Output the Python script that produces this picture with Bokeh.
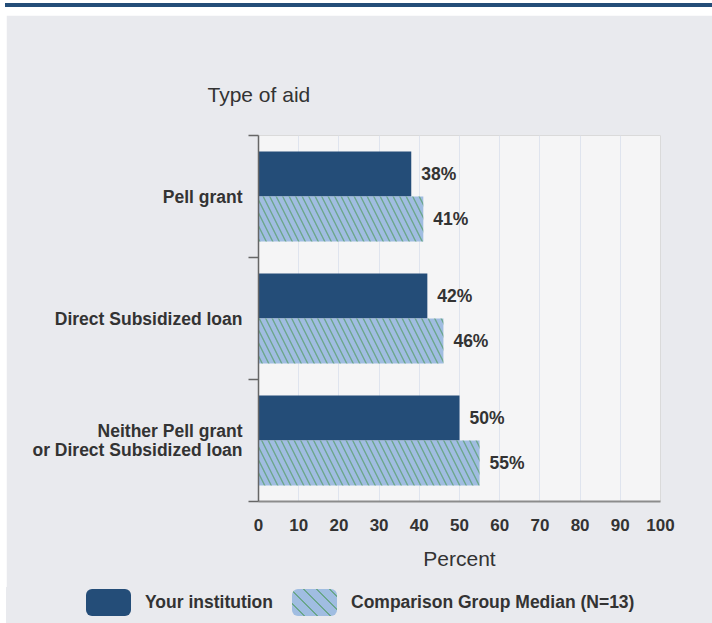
from bokeh.plotting import figure
from bokeh.models import (ColumnDataSource, Range1d, FixedTicker, LabelSet, Title, Div)
from bokeh.core.properties import value
from bokeh.layouts import column
from bokeh.embed import file_html
from bokeh.resources import INLINE

# ---- data ----
categories = ["Pell grant", "Direct Subsidized loan",
              "Neither Pell grant\nor Direct Subsidized loan"]
institution = [38, 42, 50]
comparison = [41, 46, 55]
x_ticks = [0, 10, 20, 30, 40, 50, 60, 70, 80, 90, 100]
series_names = ["Your institution", "Comparison Group Median (N=13)"]

# ---- styles ----
FONT = "Liberation Sans"
DARK = "#244d78"
LIGHT = "#a0bde1"
DOT = "#3f9446"
TEXT = "#333333"
PANEL = "#e9eaee"
BAR_H = 0.369

idx = list(range(len(categories)))
src_a = ColumnDataSource(dict(
    y=[i + 0.5 - BAR_H / 2 for i in idx], v=institution,
    lab=["%d%%" % v for v in institution]))
src_b = ColumnDataSource(dict(
    y=[i + 0.5 + BAR_H / 2 for i in idx], v=comparison,
    lab=["%d%%" % v for v in comparison]))

p = figure(width=706, height=572, output_backend="svg", toolbar_location=None,
           x_range=Range1d(0, 100), y_range=Range1d(len(categories), 0),
           min_border_left=252, min_border_right=52, min_border_top=120,
           min_border_bottom=86, margin=(0, 0, 0, 6))
p.background_fill_color = "#f5f5f6"
p.border_fill_color = PANEL
p.outline_line_color = "#dadada"
p.outline_line_width = 1

p.hbar(y="y", left=0, right="v", height=BAR_H, source=src_a,
       fill_color=DARK, line_color=None)
p.hbar(y="y", left=0, right="v", height=BAR_H, source=src_b,
       fill_color=LIGHT, line_color=None, hatch_pattern="left_diagonal_line",
       hatch_color=DOT, hatch_scale=13, hatch_weight=1.4, hatch_alpha=0.55)

for s in (src_a, src_b):
    p.add_layout(LabelSet(x="v", y="y", text="lab", source=s, x_offset=10,
                          text_baseline="middle", text_font=value(FONT),
                          text_font_size="17.5px", text_font_style="bold",
                          text_color=TEXT))

# axes
p.xaxis.ticker = FixedTicker(ticks=x_ticks)
p.xaxis.axis_label = "Percent"
p.xaxis.axis_label_text_font = FONT
p.xaxis.axis_label_text_font_size = "21px"
p.xaxis.axis_label_text_font_style = "normal"
p.xaxis.axis_label_text_color = TEXT
p.xaxis.axis_label_standoff = 13
p.xaxis.major_label_text_font = FONT
p.xaxis.major_label_text_font_size = "17px"
p.xaxis.major_label_text_font_style = "bold"
p.xaxis.major_label_text_color = TEXT
p.xaxis.major_label_standoff = 17
p.xaxis.major_tick_out = 0
p.xaxis.major_tick_in = 0
p.xaxis.minor_tick_out = 0
p.xaxis.minor_tick_in = 0
p.xaxis.axis_line_color = "#8c8c8c"
p.xaxis.axis_line_width = 2

p.yaxis.ticker = FixedTicker(ticks=[i + 0.5 for i in idx],
                             minor_ticks=[i for i in range(len(categories) + 1)])
p.yaxis.major_label_overrides = {i + 0.5: c for i, c in zip(idx, categories)}
p.yaxis.major_label_text_font = FONT
p.yaxis.major_label_text_font_size = "17.5px"
p.yaxis.major_label_text_font_style = "bold"
p.yaxis.major_label_text_color = TEXT
p.yaxis.major_label_text_line_height = 0.95
p.yaxis.major_label_standoff = 6
p.yaxis.major_tick_out = 0
p.yaxis.major_tick_in = 0
p.yaxis.minor_tick_out = 10
p.yaxis.minor_tick_in = 0
p.yaxis.minor_tick_line_color = "#666666"
p.yaxis.minor_tick_line_width = 1.5
p.yaxis.axis_line_color = "#666666"
p.yaxis.axis_line_width = 1.5

p.xgrid.ticker = FixedTicker(ticks=x_ticks)
p.xgrid.grid_line_color = "#dfe4ee"
p.ygrid.grid_line_color = None

p.title = Title(text="Type of aid", align="left", offset=-51, standoff=59,
                text_font=FONT, text_font_size="21px", text_font_style="normal",
                text_color=TEXT)

# legend strip (HTML, real text)
sw = ("display:inline-block;width:45px;height:27px;border-radius:6px;"
      "flex:none;")
hatch_css = ("background-color:%s;background-image:repeating-linear-gradient("
             "45deg, rgba(63,148,70,0) 0px, rgba(63,148,70,0) 7.9px, "
             "rgba(63,148,70,0.55) 7.9px, rgba(63,148,70,0.55) 9.2px);" % LIGHT)
legend_html = (
    '<div style="display:flex;align-items:center;padding:2px 0 0 80px;'
    'font-family:\'%s\';font-weight:bold;font-size:17.5px;color:%s;'
    'white-space:nowrap;">'
    '<span style="%sbackground-color:%s;"></span>'
    '<span style="margin-left:14px;">%s</span>'
    '<span style="%s%smargin-left:19px;"></span>'
    '<span style="margin-left:14px;">%s</span>'
    '</div>' % (FONT, TEXT, sw, DARK, series_names[0], sw, hatch_css,
                series_names[1]))
legend_div = Div(text=legend_html, width=706, height=36, margin=(0, 0, 0, 6),
                 styles={"background-color": PANEL})

top = Div(text="", width=707, height=4, margin=(3, 0, 8, 5),
          styles={"background-color": DARK})
layout = column(top, p, legend_div, spacing=0)

open("out.html", "w").write(file_html(layout, INLINE))
